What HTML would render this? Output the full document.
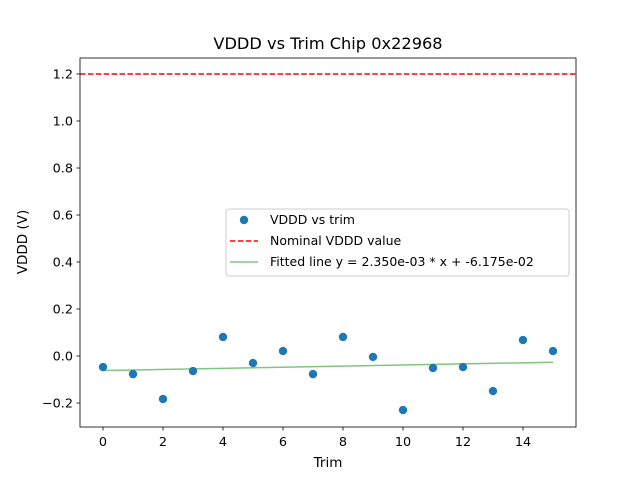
<!DOCTYPE html>
<html><head><meta charset="utf-8"><style>
body{margin:0;background:#fff}
svg{font-family:"DejaVu Sans","Liberation Sans",sans-serif}
</style></head><body>
<svg id="c" width="640" height="480" xmlns="http://www.w3.org/2000/svg">
<rect width="640" height="480" fill="#fff"/>
<text x="328" y="49" font-size="16.2" text-anchor="middle">VDDD vs Trim Chip 0x22968</text>
<text x="328" y="467" font-size="13.5" text-anchor="middle">Trim</text>
<text transform="translate(27,242) rotate(-90)" font-size="13.5" text-anchor="middle">VDDD (V)</text>
<g id="plot"></g>
</svg>
<script>
const trims=[0,1,2,3,4,5,6,7,8,9,10,11,12,13,14,15];
const vddd=[-0.047,-0.077,-0.183,-0.064,0.081,-0.030,0.021,-0.077,0.081,-0.004,-0.230,-0.051,-0.047,-0.149,0.068,0.021];
const nominal=1.2;
const slope=2.350e-3, intercept=-6.175e-2;
const xTicks=[0,2,4,6,8,10,12,14];
const yTicks=[-0.2,0.0,0.2,0.4,0.6,0.8,1.0,1.2];
const L=80,R=576,T=58,B=427;
const xmin=-0.767,xmax=15.767,ymin=-0.302,ymax=1.268;
const X=v=>L+(v-xmin)/(xmax-xmin)*(R-L);
const Y=v=>B-(v-ymin)/(ymax-ymin)*(B-T);
const NS="http://www.w3.org/2000/svg";
const g=document.getElementById('plot');
function mk(t,a){const e=document.createElementNS(NS,t);for(const k in a)e.setAttribute(k,a[k]);g.appendChild(e);return e;}
xTicks.forEach(v=>{
 const l=mk('line',{x1:X(v),x2:X(v),y1:B,y2:B+3.5,stroke:'#000','stroke-width':0.8});
 
 
 const t=mk('text',{x:X(v),y:B+19,'font-size':12.8,'text-anchor':'middle'});t.textContent=v;
 
 
});
yTicks.forEach(v=>{
 const l=mk('line',{x1:L-3.5,x2:L,y1:Y(v),y2:Y(v),stroke:'#000','stroke-width':0.8});
 
 
 const t=mk('text',{x:L-7,y:Y(v)+4.5,'font-size':12.8,'text-anchor':'end'});t.textContent=(v<0?'\u2212':'')+Math.abs(v).toFixed(1);
 
 
});
const nl=mk('line',{x1:L,x2:R,y1:Y(nominal),y2:Y(nominal),stroke:'#ff0000','stroke-width':1.5,'stroke-dasharray':'5.5,2.4'});


const fl=mk('line',{x1:X(trims[0]),x2:X(trims[trims.length-1]),y1:Y(intercept+slope*trims[0]),y2:Y(intercept+slope*trims[trims.length-1]),stroke:'#2ca02c','stroke-opacity':0.6,'stroke-width':1.5});


trims.forEach((t,i)=>{
 const c=mk('circle',{cx:X(t),cy:Y(vddd[i]),r:4.2,fill:'#1f77b4'});
 
 
});
const fr=mk('rect',{x:L,y:T,width:R-L,height:B-T,fill:'none',stroke:'#000','stroke-width':0.8});


const lg=mk('rect',{x:226,y:209,width:343,height:67,rx:3,fill:'#fff','fill-opacity':0.8,stroke:'#ccc','stroke-width':1});


const ld=mk('circle',{cx:244,cy:220,r:4.2,fill:'#1f77b4'});


const l2=mk('line',{x1:230,x2:258,y1:241,y2:241,stroke:'#ff0000','stroke-width':1.5,'stroke-dasharray':'5.5,2.4'});


const l3=mk('line',{x1:230,x2:258,y1:262,y2:262,stroke:'#2ca02c','stroke-opacity':0.6,'stroke-width':1.5});


[['VDDD vs trim',224],['Nominal VDDD value',245],['Fitted line y = 2.350e-03 * x + -6.175e-02',266]].forEach(([s,y])=>{
 const t=mk('text',{x:270,y:y,'font-size':12.5});t.textContent=s;
 
 
});
</script>
</body></html>
